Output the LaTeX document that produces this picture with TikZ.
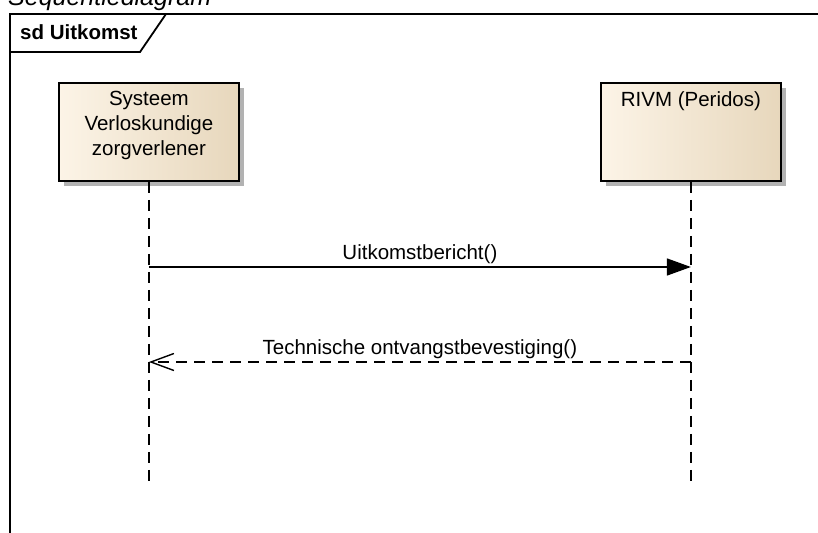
\documentclass[tikz,border=0pt]{standalone}
\usepackage{fontspec}
\setmainfont{Liberation Sans}
\usetikzlibrary{arrows.meta}

\definecolor{boxleft}{RGB}{252,244,231}
\definecolor{boxright}{RGB}{231,215,188}

\tikzset{
	actor/.style={draw, line width=1.8pt, rectangle, minimum width=180pt, minimum height=98pt, left color=boxleft, right color=boxright, anchor=north west, inner sep=0pt},
	shadowbox/.style={fill=black!30, draw=none},
	lifeline/.style={line width=1.4pt, dash pattern=on 11pt off 7pt},
	call/.style={line width=1.4pt, -{Triangle[length=24pt,width=17pt]}},
	reply/.style={line width=1.4pt, dash pattern=on 11pt off 7pt, -{Straight Barb[length=23pt,width=17pt,line width=1.4pt]}},
	msglabel/.style={pos=0.5, anchor=base, yshift=8pt}
}

\begin{document}
\begin{tikzpicture}[x=1pt, y=-1pt, font=\fontsize{20.5}{25}\selectfont]

\useasboundingbox (0,0) rectangle (818,532);
\fill[white] (0,0) rectangle (818,532);

% title and frame
\node[anchor=base west, inner sep=0pt, font=\fontsize{25}{30}\selectfont\itshape] (title) at (8,6) {Sequentiediagram};
\draw[line width=1.8pt] (10,540) -- (10,14) -- (830,14);
\draw[line width=1.8pt] (10,52) -- (140,52) -- (166,14);
\node[anchor=base west, inner sep=0pt, font=\fontsize{20.5}{25}\selectfont\bfseries] (frametitle) at (20,40) {sd Uitkomst};

% shadows
\fill[shadowbox] (64,88) rectangle +(180,98);
\fill[shadowbox] (606,88) rectangle +(180,98);

% lifeline heads
\node[actor] (sys) at (58,82) {};
\node[actor] (rivm) at (600,82) {};
\node[anchor=north, align=center, inner sep=0pt] (systxt) at ([yshift=-9pt]sys.north) {Systeem\\Verloskundige\\zorgverlener};
\node[anchor=north, inner sep=0pt] (rivmtxt) at ([yshift=-9pt]rivm.north) {RIVM (Peridos)};

\coordinate (sysend) at (sys.south |- 0,483);
\coordinate (rivmend) at (rivm.south |- 0,483);
\draw[lifeline] (sys.south) -- (sysend);
\draw[lifeline] (rivm.south) -- (rivmend);

% messages
\coordinate (sysm1) at (sys.south |- 0,267); \coordinate (rivmm1) at (rivm.south |- 0,267);
\coordinate (sysm2) at (sys.south |- 0,362); \coordinate (rivmm2) at (rivm.south |- 0,362);

\draw[call] (sysm1) -- (rivmm1) node[msglabel] (m1) {Uitkomstbericht()};
\draw[reply] (rivmm2) -- (sysm2) node[msglabel] (m2) {Technische ontvangstbevestiging()};
\end{tikzpicture}
\end{document}
